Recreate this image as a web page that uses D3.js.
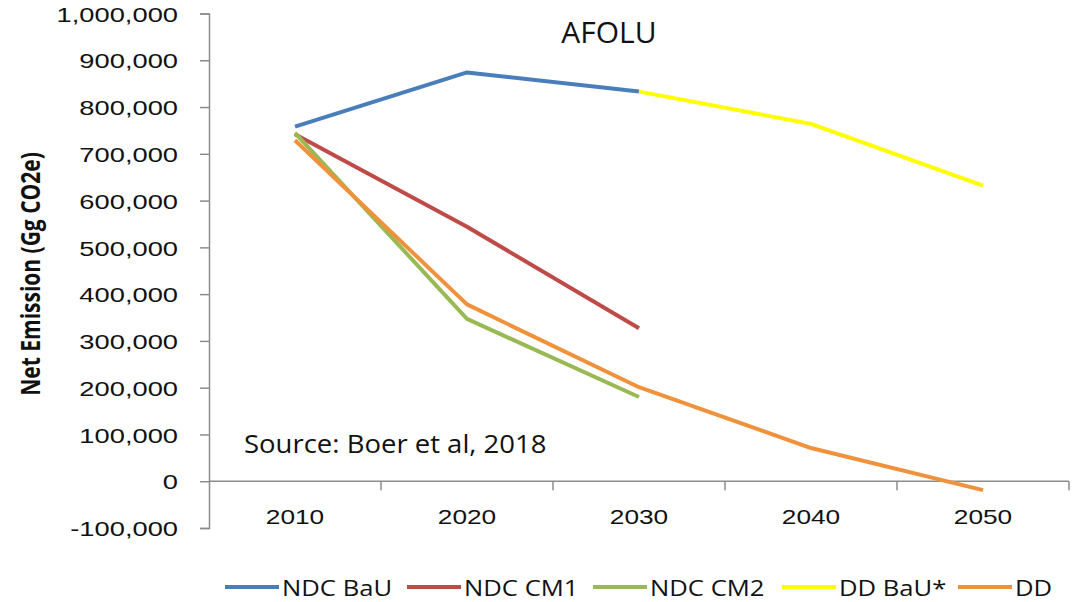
<!DOCTYPE html>
<html>
<head>
<meta charset="utf-8">
<script src="https://cdn.jsdelivr.net/npm/d3@7"></script>
<style>
  body { margin: 0; background: #fff; }
  svg { display: block; font-family: "Open Sans", sans-serif; }
  .axis path, .axis line { stroke: #8c8c8c; stroke-width: 1.5px; }
  .axis text { fill: #111; font-size: 21px; }
</style>
</head>
<body>
<svg width="1087" height="602"></svg>
<script>
// data (Gg CO2e)
var years = ['2010', '2020', '2030', '2040', '2050']
var ndcBau = [758000, 874000, 833000, null, null]
var ndcCm1 = [742000, 544000, 327000, null, null]
var ndcCm2 = [745000, 347000, 180000, null, null]
var ddBau  = [null, null, 833000, 764000, 632000]
var dd     = [729000, 378000, 201000, 71000, -19000]
var yTicks = [-100000, 0, 100000, 200000, 300000, 400000, 500000, 600000, 700000, 800000, 900000, 1000000]

var seriesNames  = ['NDC BaU', 'NDC CM1', 'NDC CM2', 'DD BaU*', 'DD']
var seriesValues = [ndcBau, ndcCm1, ndcCm2, ddBau, dd]
var seriesColors = ['#4a7ebb', '#be4b48', '#98b954', '#ffff00', '#f0923c']

var svg = d3.select('svg')

var x = d3.scaleBand().domain(years).range([209, 1069])
var y = d3.scaleLinear().domain([-100000, 1000000]).range([528, 13.5])

// plain hyphen for negatives, like the original
var fmt = function(d) { return d3.format(',')(d).replace('\u2212', '-') }

// y axis, ticks pointing out to the left
var yAxis = svg.append('g')
    .attr('class', 'axis')
    .attr('transform', 'translate(209,0)')
    .call(d3.axisLeft(y).tickValues(yTicks).tickSize(9).tickFormat(fmt))
yAxis.selectAll('text')
    .attr('x', 0)
    .attr('transform', 'translate(-31,1) scale(1.3,1)')

// x axis sits on the zero line, ticks between categories
var xAxis = svg.append('g')
    .attr('class', 'axis')
    .attr('transform', 'translate(0,' + y(0) + ')')
    .call(d3.axisBottom(x).tickSize(0).tickPadding(0))
xAxis.select('.domain').attr('d', 'M209,0H1069')
xAxis.selectAll('.tick text')
    .attr('y', 0)
    .attr('dy', 0)
    .attr('transform', 'translate(0,43) scale(1.25,1)')
xAxis.selectAll('line.sep')
    .data(years)
    .enter()
    .append('line')
    .attr('class', 'sep')
    .attr('x1', function(d) { return x(d) + x.bandwidth() })
    .attr('x2', function(d) { return x(d) + x.bandwidth() })
    .attr('y1', 0)
    .attr('y2', 9)

// y axis title
svg.append('text')
    .attr('transform', 'translate(40,274) rotate(-90) scale(1,1.3)')
    .attr('text-anchor', 'middle')
    .style('font-size', '21px')
    .style('font-weight', 'bold')
    .style('fill', '#111')
    .text('Net Emission (Gg CO2e)')

// lines
var line = d3.line()
    .defined(function(d) { return d != null })
    .x(function(d, i) { return x(years[i]) + x.bandwidth() / 2 })
    .y(function(d) { return y(d) })

svg.selectAll('path.series')
    .data(seriesValues)
    .enter()
    .append('path')
    .attr('class', 'series')
    .attr('d', line)
    .attr('fill', 'none')
    .attr('stroke', function(d, i) { return seriesColors[i] })
    .attr('stroke-width', 4)
    .attr('stroke-linejoin', 'round')

// title and source note
svg.append('text')
    .attr('x', 609)
    .attr('y', 43)
    .attr('text-anchor', 'middle')
    .style('font-size', '30px')
    .style('fill', '#111')
    .text('AFOLU')

svg.append('text')
    .attr('transform', 'translate(244,453) scale(1.1,1)')
    .style('font-size', '25px')
    .style('fill', '#111')
    .text('Source: Boer et al, 2018')

// legend
var legendX = [225, 407, 593, 782, 958]
var legend = svg.selectAll('g.legend')
    .data(seriesNames)
    .enter()
    .append('g')
    .attr('class', 'legend')
    .attr('transform', function(d, i) { return 'translate(' + legendX[i] + ',587)' })
legend.append('line')
    .attr('x1', 0)
    .attr('x2', 54)
    .attr('stroke', function(d, i) { return seriesColors[i] })
    .attr('stroke-width', 4)
legend.append('text')
    .attr('transform', 'translate(57,9) scale(1.22,1)')
    .style('font-size', '21px')
    .style('fill', '#111')
    .text(function(d) { return d })
</script>
</body>
</html>
